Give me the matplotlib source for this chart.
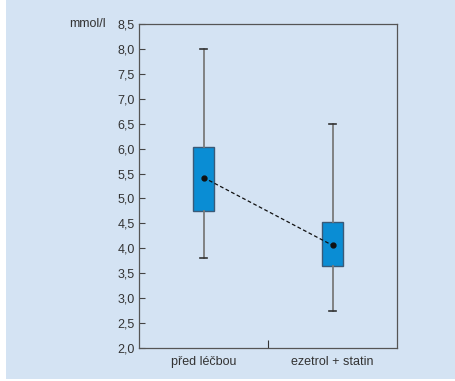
import matplotlib.pyplot as plt
from matplotlib.patches import Rectangle

# Data
groups = ['před léčbou', 'ezetrol + statin']
whisker_low = [3.8, 2.75]
q1 = [4.74, 3.64]
centre = [5.42, 4.06]
q3 = [6.04, 4.52]
whisker_high = [8.0, 6.5]
yticks = [2.0, 2.5, 3.0, 3.5, 4.0, 4.5, 5.0, 5.5, 6.0, 6.5, 7.0, 7.5, 8.0, 8.5]

plt.rcParams['font.family'] = ['Liberation Sans', 'DejaVu Sans']

panel = '#d4e3f3'
fig = plt.figure(figsize=(4.55, 3.81), dpi=100)
fig.patch.set_facecolor('white')
fig.patches.append(Rectangle((6 / 455, 2 / 381), 1, 1, transform=fig.transFigure,
                             facecolor=panel, edgecolor='none', zorder=-10))

ax = fig.add_axes([139 / 455, 1 - 348 / 381, 258 / 455, 324 / 381])
ax.set_facecolor(panel)

positions = [1, 2]
stats = []
for i, g in enumerate(groups):
    stats.append({'label': g, 'whislo': whisker_low[i], 'q1': q1[i], 'med': centre[i],
                  'q3': q3[i], 'whishi': whisker_high[i]})

ax.bxp(stats, positions=positions, widths=0.17, capwidths=0.06, patch_artist=True,
       showfliers=False,
       boxprops=dict(facecolor='#0a8dd4', edgecolor='#3a5a78', linewidth=1.0),
       whiskerprops=dict(color='#7a7a7a', linewidth=1.3),
       capprops=dict(color='#333333', linewidth=1.2),
       medianprops=dict(visible=False))

ax.plot(positions, centre, color='#111111', linestyle=(0, (3, 2)), linewidth=0.9,
        marker='o', markersize=3.5, zorder=5)

ax.set_xlim(0.5, 2.5)
ax.set_ylim(2.0, 8.5)
ax.set_yticks(yticks)
ax.set_yticklabels([f'{v:.1f}'.replace('.', ',') for v in yticks])
ax.set_xticks(positions)
ax.set_xticklabels(groups)
ax.set_xticks([1.5], minor=True)

ax.tick_params(axis='y', direction='in', length=4.5, width=0.8, pad=3,
               labelsize=9, colors='#444444', labelcolor='#333333')
ax.tick_params(axis='x', which='major', length=0, pad=6, labelsize=9, labelcolor='#333333')
ax.tick_params(axis='x', which='minor', direction='in', length=6, width=0.8, color='#333333')

for s in ax.spines.values():
    s.set_color('#555555')
    s.set_linewidth(0.9)

ax.annotate('mmol/l', xy=(0, 8.5), xycoords=('axes fraction', 'data'),
            xytext=(-24, 0), textcoords='offset points', ha='right', va='center',
            fontsize=9, color='#333333')

fig.savefig('out.png', dpi=100, facecolor=fig.get_facecolor())
